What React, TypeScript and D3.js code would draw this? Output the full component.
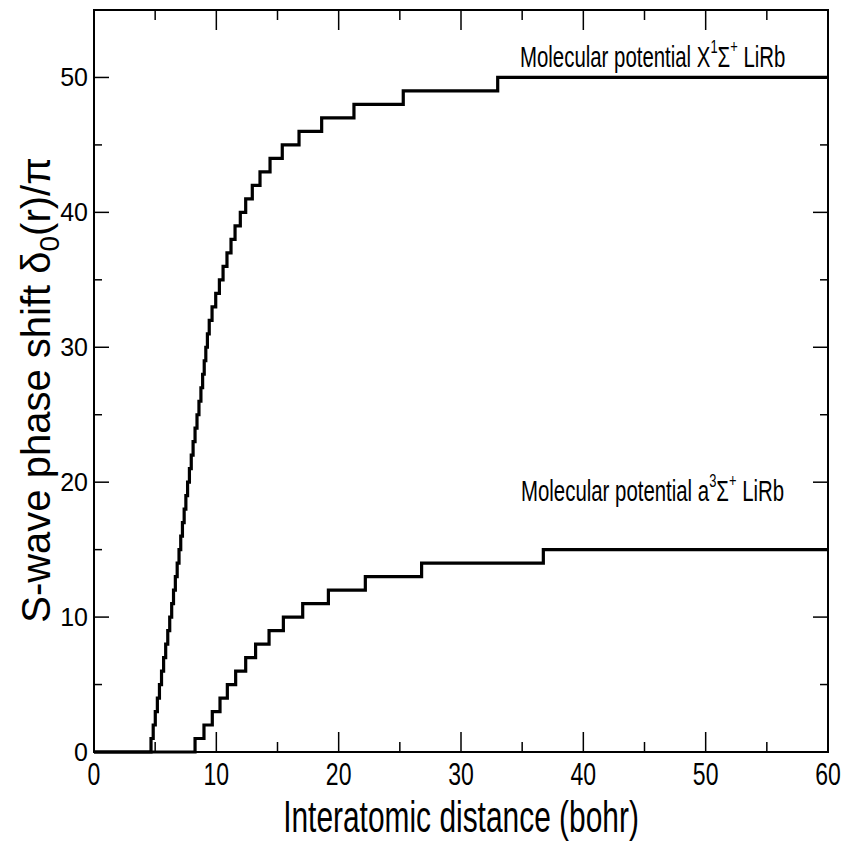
import React from "react";
import * as d3 from "d3";

// x (bohr) at which the phase shift jumps up by one pi
const singletSteps = [
  4.66, 4.84, 5.01, 5.18, 5.35, 5.52, 5.69, 5.86, 6.03, 6.19, 6.35, 6.5, 6.65,
  6.8, 6.95, 7.09, 7.23, 7.37, 7.51, 7.65, 7.8, 7.95, 8.1, 8.26, 8.42, 8.58,
  8.74, 8.88, 9.01, 9.14, 9.27, 9.42, 9.65, 9.95, 10.25, 10.55, 10.87, 11.2,
  11.53, 11.96, 12.4, 12.94, 13.57, 14.39, 15.39, 16.76, 18.61, 21.25, 25.28,
  33.0,
];
const tripletSteps = [
  8.26, 8.99, 9.67, 10.3, 10.9, 11.58, 12.4, 13.21, 14.31, 15.48, 17.06, 19.16,
  22.18, 26.78, 36.73,
];

const xMajor = [0, 10, 20, 30, 40, 50, 60];
const xMinor = [5, 15, 25, 35, 45, 55];
const yMajor = [0, 10, 20, 30, 40, 50];
const yMinor = [5, 15, 25, 35, 45];

const W = 851;
const H = 848;
const left = 94;
const right = 828;
const top = 10;
const bottom = 752;

const x = d3.scaleLinear().domain([0, 60]).range([left, right]);
const y = d3.scaleLinear().domain([0, 55]).range([bottom, top]);

function stepPoints(steps: number[]): [number, number][] {
  const pts: [number, number][] = [[0, 0]];
  steps.forEach((s, i) => pts.push([s, i + 1]));
  pts.push([60, steps.length]);
  return pts;
}

const line = d3
  .line<[number, number]>()
  .x((d) => x(d[0]))
  .y((d) => y(d[1]))
  .curve(d3.curveStepAfter);

const narrow = 0.68;
const font = "'Liberation Sans', Arial, Helvetica, sans-serif";

function Cond({ tx, ty, anchor = "start", size, sx = narrow, children }: any) {
  return (
    <g transform={`translate(${tx},${ty}) scale(${sx},1)`}>
      <text textAnchor={anchor} fontSize={size} fontFamily={font} fill="#000">
        {children}
      </text>
    </g>
  );
}

export default function App() {
  const majLx = 15;
  const minLx = 8;
  const majLy = 20;
  const minLy = 10;
  return (
    <svg
      width={W}
      height={H}
      style={{ position: "absolute", left: 0, top: 0, background: "#fff" }}
    >
      <rect width={W} height={H} fill="#fff" />
      {/* ticks */}
      <g stroke="#000" strokeWidth={1.5}>
        {xMajor.map((t) => (
          <g key={"xm" + t}>
            <line x1={x(t)} x2={x(t)} y1={bottom} y2={bottom - majLy} />
            <line x1={x(t)} x2={x(t)} y1={top} y2={top + majLy} />
          </g>
        ))}
        {xMinor.map((t) => (
          <g key={"xn" + t}>
            <line x1={x(t)} x2={x(t)} y1={bottom} y2={bottom - minLy} />
            <line x1={x(t)} x2={x(t)} y1={top} y2={top + minLy} />
          </g>
        ))}
        {yMajor.map((t) => (
          <g key={"ym" + t}>
            <line x1={left} x2={left + majLx} y1={y(t)} y2={y(t)} />
            <line x1={right} x2={right - majLx} y1={y(t)} y2={y(t)} />
          </g>
        ))}
        {yMinor.map((t) => (
          <g key={"yn" + t}>
            <line x1={left} x2={left + minLx} y1={y(t)} y2={y(t)} />
            <line x1={right} x2={right - minLx} y1={y(t)} y2={y(t)} />
          </g>
        ))}
      </g>
      <rect
        x={left}
        y={top}
        width={right - left}
        height={bottom - top}
        fill="none"
        stroke="#000"
        strokeWidth={2}
      />
      {/* curves */}
      <path
        d={line(stepPoints(tripletSteps)) || ""}
        fill="none"
        stroke="#000"
        strokeWidth={3.2}
      />
      <path
        d={line(stepPoints(singletSteps)) || ""}
        fill="none"
        stroke="#000"
        strokeWidth={3.2}
      />
      {/* y tick labels */}
      {yMajor.map((t) => (
        <text
          key={"yl" + t}
          x={88}
          y={y(t) + 9}
          textAnchor="end"
          fontSize={25}
          fontFamily={font}
        >
          {t}
        </text>
      ))}
      {/* x tick labels */}
      {xMajor.map((t) => (
        <Cond key={"xl" + t} tx={x(t)} ty={785} anchor="middle" size={32} sx={0.72}>
          {t}
        </Cond>
      ))}
      {/* axis titles */}
      <Cond tx={(left + right) / 2} ty={832} anchor="middle" size={44}>
        Interatomic distance (bohr)
      </Cond>
      <text
        transform={`translate(50,390) rotate(-90)`}
        textAnchor="middle"
        fontSize={40}
        fontFamily={font}
      >
        S-wave phase shift δ
        <tspan fontSize={28} dy={9}>
          0
        </tspan>
        <tspan dy={-9}>(r)/π</tspan>
      </text>
      {/* annotations */}
      <Cond tx={520} ty={67} size={30}>
        Molecular potential X
        <tspan fontSize={19} dy={-14}>
          1
        </tspan>
        <tspan dy={14}>Σ</tspan>
        <tspan fontSize={19} dy={-14}>
          +
        </tspan>
        <tspan dy={14}> LiRb</tspan>
      </Cond>
      <Cond tx={521} ty={501} size={30}>
        Molecular potential a
        <tspan fontSize={19} dy={-14}>
          3
        </tspan>
        <tspan dy={14}>Σ</tspan>
        <tspan fontSize={19} dy={-14}>
          +
        </tspan>
        <tspan dy={14}> LiRb</tspan>
      </Cond>
    </svg>
  );
}
